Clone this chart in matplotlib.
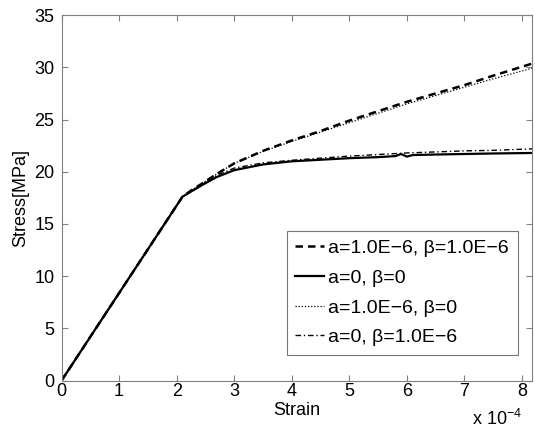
import matplotlib
matplotlib.use("Agg")
import matplotlib.pyplot as plt
import numpy as np

plt.rcParams['font.family'] = ['Liberation Sans', 'DejaVu Sans']
plt.rcParams['font.size'] = 13

# strain in units of 1e-4
strain_ab = [0, 2.1, 2.25, 2.45, 2.7, 3.0, 3.5, 4.0, 4.5, 5.0, 5.5, 6.0, 6.5, 7.0, 7.5, 8.2]
stress_ab = [0, 17.6, 18.2, 18.9, 19.8, 20.8, 22.0, 23.0, 23.9, 24.9, 25.8, 26.7, 27.5, 28.3, 29.2, 30.4]

strain_00 = [0, 2.1, 2.25, 2.45, 2.7, 3.0, 3.5, 4.0, 4.5, 5.0, 5.5, 5.8, 5.9, 6.0, 6.1, 6.5, 7.0, 7.5, 8.2]
stress_00 = [0, 17.6, 18.1, 18.75, 19.5, 20.15, 20.7, 21.0, 21.15, 21.3, 21.4, 21.5, 21.7, 21.45, 21.6, 21.65, 21.7, 21.75, 21.8]

strain_a0 = [0, 2.1, 2.25, 2.45, 2.7, 3.0, 3.5, 4.0, 4.5, 5.0, 5.5, 6.0, 6.5, 7.0, 7.5, 8.2]
stress_a0 = [0, 17.6, 18.2, 18.9, 19.8, 20.8, 21.95, 22.9, 23.8, 24.7, 25.6, 26.5, 27.3, 28.1, 28.9, 29.95]

strain_0b = [0, 2.1, 2.25, 2.45, 2.7, 3.0, 3.5, 4.0, 4.5, 5.0, 5.5, 6.0, 6.5, 7.0, 7.5, 8.2]
stress_0b = [0, 17.6, 18.15, 18.85, 19.65, 20.35, 20.85, 21.1, 21.3, 21.5, 21.65, 21.8, 21.9, 22.0, 22.05, 22.2]

labels = ['a=1.0E\u22126, \u03b2=1.0E\u22126', 'a=0, \u03b2=0',
          'a=1.0E\u22126, \u03b2=0', 'a=0, \u03b2=1.0E\u22126']
xticks = [0, 1, 2, 3, 4, 5, 6, 7, 8]
yticks = [0, 5, 10, 15, 20, 25, 30, 35]

fig = plt.figure(figsize=(5.35, 4.32), dpi=100)
ax = fig.add_axes([0.115, 0.119, 0.879, 0.846])

sc = 1e-4
ax.plot(np.array(strain_ab) * sc, stress_ab, color='black', ls=(0, (3, 2)), lw=1.8, label=labels[0])
ax.plot(np.array(strain_00) * sc, stress_00, color='black', ls='-', lw=1.6, label=labels[1])
ax.plot(np.array(strain_a0) * sc, stress_a0, color='black', ls=(0, (1, 1.5)), lw=0.9, label=labels[2])
ax.plot(np.array(strain_0b) * sc, stress_0b, color='black', ls=(0, (4, 2, 1, 2)), lw=1.0, label=labels[3])

ax.set_xlim(0, 8.17e-4)
ax.set_ylim(0, 35)
ax.set_xticks(np.array(xticks) * sc)
ax.set_xticklabels([str(t) for t in xticks])
ax.set_yticks(yticks)
ax.set_yticklabels([str(t) for t in yticks])
ax.tick_params(direction='in', top=True, right=True, length=4, color='#808080', labelsize=13)
ax.tick_params(axis='x', pad=2)
ax.tick_params(axis='y', pad=5)
for s in ax.spines.values():
    s.set_color('#808080')
    s.set_linewidth(0.8)

ax.set_xlabel('Strain', fontsize=13, labelpad=1)
ax.set_ylabel('Stress[MPa]', fontsize=13, labelpad=4)
fig.text(0.976, 0.006, 'x 10$^{\\mathregular{-4}}$', ha='right', va='bottom', fontsize=13)

leg = ax.legend(loc='lower right', bbox_to_anchor=(0.970, 0.070), fontsize=14, frameon=True,
                fancybox=False, edgecolor='#555555', handlelength=1.5, handletextpad=0.2,
                borderpad=0.45, labelspacing=0.62, borderaxespad=0)
leg.get_frame().set_linewidth(0.8)

fig.savefig('out.png', dpi=100)
